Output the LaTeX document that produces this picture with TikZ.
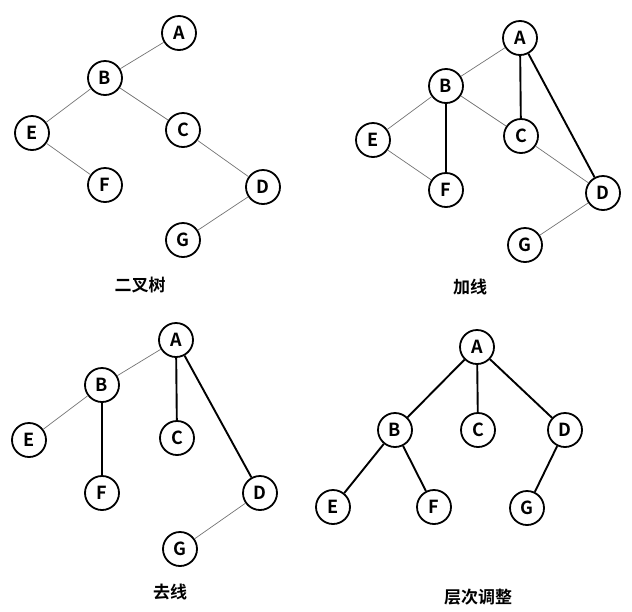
\documentclass[tikz,border=0pt]{standalone}
\usepackage{fontspec}
\setmainfont{Noto Sans CJK SC}[BoldFont={* Bold}]
\begin{document}
\begin{tikzpicture}[x=1pt,y=-1pt,
  nd/.style={circle,draw,line width=1.8pt,minimum size=34pt,inner sep=0pt,font=\bfseries\fontsize{18}{18}\selectfont,fill=white},
  thin/.style={draw=gray!90!black,line width=0.7pt},
  thick/.style={line width=1.9pt},
  lab/.style={font=\bfseries\fontsize{17}{17}\selectfont}]
\useasboundingbox (0,0) rectangle (632,611);
% panel 1
\node[nd] (a1) at (179,33) {A};
\node[nd] (b1) at (105,78) {B};
\node[nd] (e1) at (32,133) {E};
\node[nd] (c1) at (183,130) {C};
\node[nd] (f1) at (105,185) {F};
\node[nd] (d1) at (263,187) {D};
\node[nd] (g1) at (183,240) {G};
\draw[thin] (a1)--(b1) (b1)--(e1) (b1)--(c1) (e1)--(f1) (c1)--(d1) (d1)--(g1);
\node[lab] (l1) at (140,285) {二叉树};
% panel 2
\node[nd] (a2) at (520,38) {A};
\node[nd] (b2) at (446,86) {B};
\node[nd] (e2) at (373,140) {E};
\node[nd] (c2) at (521,136) {C};
\node[nd] (f2) at (446,190) {F};
\node[nd] (d2) at (603,193) {D};
\node[nd] (g2) at (525,245) {G};
\draw[thin] (a2)--(b2) (b2)--(e2) (b2)--(c2) (e2)--(f2) (c2)--(d2) (d2)--(g2);
\draw[thick] (a2)--(c2) (a2)--(d2) (b2)--(f2);
\node[lab] (l2) at (470,287) {加线};
% panel 3
\node[nd] (a3) at (176,340) {A};
\node[nd] (b3) at (102,385) {B};
\node[nd] (e3) at (29,440) {E};
\node[nd] (c3) at (177,438) {C};
\node[nd] (f3) at (102,493) {F};
\node[nd] (d3) at (260,493) {D};
\node[nd] (g3) at (180,549) {G};
\draw[thin] (a3)--(b3) (b3)--(e3) (d3)--(g3);
\draw[thick] (a3)--(c3) (a3)--(d3) (b3)--(f3);
\node[lab] (l3) at (170,592) {去线};
% panel 4
\node[nd] (a4) at (477,347) {A};
\node[nd] (b4) at (395,430) {B};
\node[nd] (c4) at (478,430) {C};
\node[nd] (d4) at (565,430) {D};
\node[nd] (e4) at (333,507) {E};
\node[nd] (f4) at (434,507) {F};
\node[nd] (g4) at (527,508) {G};
\draw[thick] (a4)--(b4) (a4)--(c4) (a4)--(d4) (b4)--(e4) (b4)--(f4) (d4)--(g4);
\node[lab] (l4) at (478,597) {层次调整};
\end{tikzpicture}
\end{document}
